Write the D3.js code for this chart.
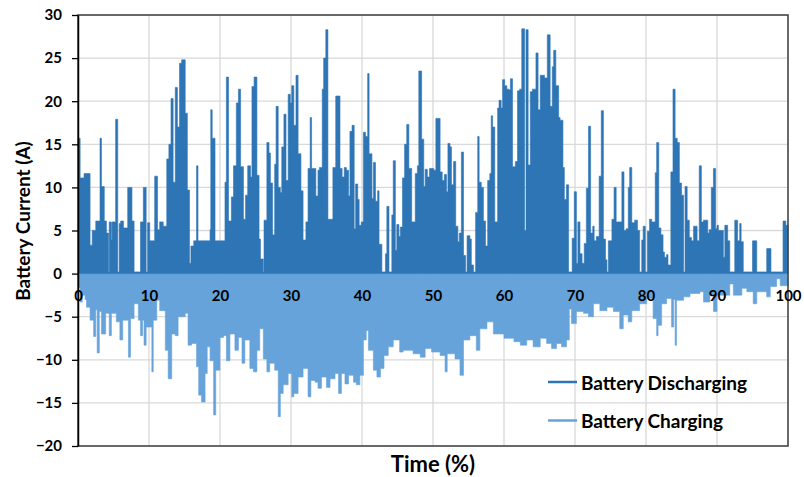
<!DOCTYPE html>
<html>
<head>
<meta charset="utf-8">
<script src="https://cdn.jsdelivr.net/npm/d3@7"></script>
<style>
body { margin: 0; background: #fff; }
svg text { font-family: Lato, "Open Sans", sans-serif; font-weight: 700; fill: #000; }
</style>
</head>
<body>
<svg id="chart" width="804" height="477"></svg>
<script>
// envelope of the battery current: each value holds from its start time to the next one
var dischargeTime = [
    0, 0.3, 0.85, 1.7, 2.0, 2.5, 3.1, 3.3, 3.7, 4.0,
    4.3, 4.4, 4.7, 4.8, 5.3, 5.6, 5.8, 6.0, 6.4, 7.0,
    7.6, 7.9, 8.8, 9.2, 9.6, 9.8, 10.1, 10.8, 11.2, 11.5,
    12.0, 12.5, 12.8, 13.1, 13.4, 13.7, 14.0, 14.3, 14.6, 15.1,
    15.4, 15.7, 15.9, 16.3, 16.7, 16.9, 18.6, 18.7, 18.9, 19.3,
    20.7, 20.9, 21.2, 21.6, 21.9, 22.3, 22.6, 22.9, 23.3, 23.6,
    23.9, 24.3, 24.5, 24.8, 25.2, 25.5, 25.7, 26.1, 26.2, 26.6,
    26.9, 27.1, 27.4, 27.7, 27.9, 28.2, 28.5, 28.7, 29.0, 29.3,
    29.6, 29.9, 30.1, 30.4, 30.7, 31.0, 31.4, 31.7, 32.1, 32.4,
    32.7, 32.9, 33.5, 33.8, 34.0, 34.4, 34.6, 34.9, 35.2, 35.9,
    36.3, 36.9, 37.2, 37.5, 37.8, 38.1, 38.3, 38.6, 38.9, 39.1,
    39.4, 39.6, 39.9, 40.2, 40.5, 40.8, 41.0, 41.4, 41.6, 41.9,
    42.2, 42.4, 42.8, 43.3, 43.5, 43.8, 44.2, 44.4, 44.7, 44.9,
    45.2, 45.4, 45.7, 46.0, 46.3, 46.6, 47.0, 47.5, 47.8, 48.0,
    48.4, 48.7, 48.9, 49.2, 49.5, 50.1, 50.4, 51.0, 51.3, 51.6,
    51.9, 52.1, 52.4, 52.6, 52.9, 53.2, 53.5, 53.7, 54.0, 54.3,
    54.6, 54.8, 55.2, 55.4, 55.7, 56.0, 56.3, 56.5, 56.8, 57.1,
    57.4, 57.7, 58.0, 58.2, 58.4, 58.7, 59.1, 59.3, 59.6, 59.8,
    60.1, 60.4, 60.7, 60.9, 61.2, 61.6, 61.9, 62.2, 62.5, 62.9,
    63.1, 63.4, 63.7, 64.0, 64.5, 64.8, 65.1, 65.7, 66.1, 66.5,
    66.8, 67.0, 67.3, 67.7, 67.9, 68.3, 68.5, 68.8, 69.1, 69.6,
    69.9, 70.2, 70.4, 70.7, 71.0, 71.3, 71.6, 71.9, 72.2, 72.5,
    72.7, 73.0, 73.4, 73.7, 74.0, 74.3, 74.5, 74.7, 75.2, 75.5,
    75.8, 76.6, 76.9, 77.2, 77.5, 77.7, 78.0, 78.4, 78.8, 79.1,
    79.4, 79.6, 79.9, 80.2, 80.5, 80.8, 81.3, 81.5, 81.8, 82.1,
    82.4, 82.6, 82.9, 83.1, 83.5, 83.8, 84.1, 84.4, 84.7, 85.0,
    85.3, 85.5, 85.8, 86.1, 86.4, 86.7, 87.2, 87.5, 87.8, 88.1,
    88.7, 88.9, 89.2, 89.5, 89.8, 90.0, 90.2, 90.9, 91.1, 91.5,
    91.8, 92.5, 92.9, 93.2, 93.4, 93.7, 95.0, 95.6, 97.0, 97.6,
    99.3, 99.7
];
var dischargeAmps = [
    15.7, 11.1, 11.6, 3.3, 5.0, 6.1, 15.7, 10.1, 6.1, 4.7,
    0.2, 6.0, 3.9, 6.0, 17.9, 0.2, 5.8, 6.1, 5.3, 10.0,
    6.1, 0.2, 6.0, 10.0, 0.2, 5.9, 3.8, 11.3, 5.1, 6.0,
    5.5, 13.3, 15.0, 20.3, 10.6, 21.6, 17.0, 24.4, 24.8, 18.6,
    9.7, 1.2, 3.2, 3.8, 12.5, 3.8, 5.1, 19.0, 15.7, 3.8,
    10.6, 22.8, 6.1, 8.9, 12.5, 19.8, 21.4, 12.4, 6.3, 9.1,
    12.5, 11.2, 21.7, 22.8, 11.4, 4.0, 1.7, 0.2, 6.2, 15.2,
    14.0, 10.5, 4.5, 12.7, 19.4, 10.0, 9.4, 14.7, 18.5, 10.8,
    20.8, 19.8, 21.8, 17.2, 23.0, 13.9, 9.6, 3.9, 6.0, 12.2,
    18.1, 12.2, 9.0, 12.0, 12.3, 21.4, 25.0, 28.3, 6.3, 12.3,
    20.6, 12.2, 11.2, 12.3, 12.0, 9.0, 16.5, 17.2, 5.2, 10.4,
    8.6, 5.6, 6.0, 16.4, 15.9, 23.2, 13.9, 8.7, 12.9, 8.4,
    9.6, 3.4, 0.2, 2.3, 7.8, 0.2, 6.8, 13.1, 2.7, 5.7,
    4.3, 5.4, 11.1, 15.0, 17.3, 12.2, 6.0, 11.6, 12.5, 23.5,
    15.6, 10.1, 12.1, 11.2, 12.2, 12.0, 18.0, 11.8, 10.8, 11.5,
    9.5, 15.1, 14.7, 10.3, 13.0, 5.5, 3.7, 4.7, 14.1, 2.1,
    0.2, 4.4, 4.0, 1.0, 0.2, 7.1, 15.9, 10.6, 10.0, 6.1,
    3.2, 10.8, 11.6, 18.3, 17.0, 6.0, 19.2, 20.1, 19.2, 22.5,
    21.8, 21.4, 21.3, 22.6, 12.4, 13.0, 21.2, 21.4, 28.4, 5.0,
    28.3, 12.6, 21.1, 21.4, 25.6, 19.0, 23.0, 22.7, 27.7, 19.4,
    24.0, 25.9, 21.8, 18.1, 17.8, 12.3, 8.6, 10.3, 0.2, 4.1,
    9.5, 1.2, 6.0, 2.3, 1.2, 3.5, 9.9, 17.1, 4.7, 5.5,
    3.8, 4.3, 11.3, 18.9, 4.0, 1.6, 0.2, 3.8, 6.3, 10.0,
    6.0, 11.8, 5.0, 5.2, 10.0, 12.3, 5.9, 6.2, 5.0, 0.2,
    3.9, 5.5, 0.2, 4.9, 6.3, 6.0, 11.7, 15.2, 5.3, 4.5,
    2.5, 1.9, 2.2, 1.0, 11.8, 21.4, 15.7, 15.2, 10.5, 9.1,
    0.2, 10.1, 6.2, 4.2, 3.8, 5.5, 3.8, 12.5, 6.0, 6.2,
    4.7, 5.1, 10.0, 12.2, 5.2, 5.6, 5.0, 1.9, 5.6, 3.8,
    0.2, 6.2, 3.8, 5.8, 3.7, 0.2, 3.8, 0.2, 2.9, 0.2,
    6.1, 5.6
];

var chargeTime = [
    0, 0.3, 0.6, 1.0, 1.2, 1.7, 2.2, 2.5, 2.7, 3.0,
    3.3, 3.9, 4.4, 4.7, 5.4, 5.9, 6.3, 7.1, 7.4, 7.9,
    8.5, 8.8, 9.1, 9.3, 9.6, 10.4, 10.6, 11.1, 11.5, 12.3,
    12.7, 13.2, 13.7, 14.1, 15.1, 15.5, 16.0, 16.7, 17.0, 17.4,
    17.9, 18.2, 18.6, 19.1, 19.4, 20.0, 20.5, 20.9, 21.4, 22.1,
    22.6, 23.1, 23.5, 24.2, 24.7, 25.2, 25.6, 26.1, 26.6, 27.0,
    27.7, 28.2, 28.5, 28.9, 29.6, 30.1, 30.4, 31.0, 31.7, 32.4,
    32.8, 33.4, 33.8, 34.3, 35.0, 35.5, 36.2, 36.7, 37.1, 37.6,
    38.1, 38.8, 39.2, 39.7, 40.2, 40.6, 40.9, 41.6, 42.1, 42.6,
    43.1, 43.7, 44.4, 45.3, 45.8, 47.2, 48.2, 48.9, 49.8, 51.0,
    51.7, 52.0, 53.1, 53.8, 54.3, 55.2, 56.1, 56.6, 57.6, 58.5,
    60.0, 61.4, 62.3, 63.2, 64.1, 65.1, 66.0, 66.7, 67.4, 68.1,
    68.8, 69.2, 69.5, 70.2, 71.2, 71.9, 72.6, 73.5, 74.5, 75.4,
    76.3, 76.8, 77.5, 78.0, 79.1, 80.1, 81.0, 81.5, 81.7, 82.2,
    82.9, 83.6, 83.9, 84.1, 84.3, 85.3, 86.2, 87.6, 88.1, 89.0,
    89.5, 90.0, 91.8, 92.3, 93.5, 94.2, 95.1, 95.6, 97.0, 97.5,
    98.4, 98.9
];
var chargeAmps = [
    -1.6, -3.3, -2.5, -3.0, -3.9, -5.4, -7.3, -4.2, -9.2, -4.4,
    -7.0, -4.6, -7.2, -4.6, -5.6, -7.7, -5.4, -9.7, -5.2, -3.5,
    -5.4, -7.2, -5.4, -8.3, -6.2, -11.4, -5.4, -3.1, -4.3, -8.9,
    -12.2, -7.0, -7.2, -5.0, -4.6, -8.3, -8.1, -10.8, -14.1, -14.9,
    -11.6, -8.5, -10.1, -16.4, -11.2, -7.4, -7.2, -10.1, -7.0, -8.9,
    -7.4, -10.4, -7.7, -11.0, -11.4, -8.9, -6.4, -9.9, -11.4, -10.4,
    -11.2, -16.6, -13.9, -12.9, -11.6, -14.3, -13.9, -12.0, -11.0, -14.3,
    -12.4, -12.6, -13.3, -12.0, -13.2, -12.2, -11.6, -13.9, -11.6, -12.8,
    -11.8, -12.6, -12.9, -11.8, -7.7, -6.6, -8.9, -11.2, -12.0, -11.0,
    -9.5, -8.5, -7.7, -9.1, -8.9, -9.3, -9.7, -8.7, -9.1, -9.5,
    -11.4, -9.3, -9.9, -11.8, -7.7, -7.2, -8.9, -6.4, -5.6, -7.0,
    -7.5, -7.9, -8.3, -7.7, -8.5, -7.5, -8.1, -8.7, -8.1, -8.5,
    -7.7, -4.1, -5.8, -4.4, -4.6, -5.0, -3.5, -4.3, -3.9, -4.4,
    -6.4, -4.8, -5.6, -4.3, -3.5, -2.9, -5.2, -7.2, -6.0, -3.5,
    -2.9, -6.2, -3.0, -8.3, -3.1, -2.7, -2.3, -2.1, -3.3, -2.5,
    -4.4, -2.5, -1.2, -2.5, -1.7, -2.1, -3.5, -2.1, -2.7, -1.5,
    -0.6, -1.4
];

var xTicks = [0, 10, 20, 30, 40, 50, 60, 70, 80, 90, 100];
var yTicks = [-20, -15, -10, -5, 0, 5, 10, 15, 20, 25, 30];
var seriesNames = ['Battery Discharging', 'Battery Charging'];
var seriesColors = ['#2e75b6', '#66a3da'];

var svg = d3.select('#chart');
var x = d3.scaleLinear().domain([0, 100]).range([78, 788]);
var y = d3.scaleLinear().domain([-20, 30]).range([446, 15]);

// turn the two parallel arrays into step points, closing at 100 %
function steps(times, amps) {
    var pts = times.map(function(t, i) { return { t: t, v: amps[i] }; });
    pts.push({ t: 100, v: amps[amps.length - 1] });
    return pts;
}

// gridlines
var grid = svg.append('g').attr('class', 'grid');
grid.selectAll('line.h').data(yTicks).enter().append('line')
    .attr('class', 'h')
    .attr('x1', x(0)).attr('x2', x(100))
    .attr('y1', function(d) { return y(d); }).attr('y2', function(d) { return y(d); })
    .attr('stroke', '#d9d9d9').attr('stroke-width', 1.3);
grid.selectAll('line.v').data(xTicks).enter().append('line')
    .attr('class', 'v')
    .attr('x1', function(d) { return x(d); }).attr('x2', function(d) { return x(d); })
    .attr('y1', y(30)).attr('y2', y(-20))
    .attr('stroke', '#d9d9d9').attr('stroke-width', 1.3);

var area = d3.area()
    .curve(d3.curveStepAfter)
    .x(function(d) { return x(d.t); })
    .y0(y(0))
    .y1(function(d) { return y(d.v); });

svg.append('path')
    .datum(steps(chargeTime, chargeAmps))
    .attr('d', area)
    .attr('fill', seriesColors[1])
    .attr('stroke', seriesColors[1])
    .attr('stroke-width', 0.6);

svg.append('path')
    .datum(steps(dischargeTime, dischargeAmps))
    .attr('d', area)
    .attr('fill', seriesColors[0])
    .attr('stroke', seriesColors[0])
    .attr('stroke-width', 0.6);

// plot border
svg.append('rect')
    .attr('x', x(0)).attr('y', y(30))
    .attr('width', x(100) - x(0)).attr('height', y(-20) - y(30))
    .attr('fill', 'none')
    .attr('stroke', '#404040')
    .attr('stroke-width', 1.5);

// y axis
var yAxis = svg.append('g')
    .attr('transform', 'translate(' + x(0) + ',0)')
    .call(d3.axisLeft(y).tickValues(yTicks).tickSize(6).tickSizeOuter(0).tickPadding(10));
yAxis.select('.domain').attr('stroke', '#000').attr('stroke-width', 1.5);
yAxis.selectAll('.tick line').attr('stroke', '#000').attr('stroke-width', 1.3);
yAxis.selectAll('text').attr('font-size', 15).attr('fill', '#000');

// x labels sit just under the zero line
var xAxis = svg.append('g')
    .attr('transform', 'translate(0,' + y(0) + ')')
    .call(d3.axisBottom(x).tickValues(xTicks).tickSize(0).tickPadding(17));
xAxis.select('.domain').remove();
xAxis.selectAll('text').attr('font-size', 15).attr('fill', '#000');
svg.selectAll('.tick text').style('font-family', 'Lato, "Open Sans", sans-serif').style('font-weight', 700);

// axis titles
svg.append('text')
    .attr('transform', 'translate(22,221) rotate(-90)')
    .attr('text-anchor', 'middle')
    .attr('dominant-baseline', 'central')
    .attr('font-size', 19)
    .text('Battery Current (A)');
svg.append('text')
    .attr('x', 433).attr('y', 472)
    .attr('text-anchor', 'middle')
    .attr('font-size', 22)
    .text('Time (%)');

// legend
var legend = svg.append('g').selectAll('g').data(seriesNames).enter().append('g')
    .attr('transform', function(d, i) { return 'translate(548,' + (382 + i * 38.5) + ')'; });
legend.append('line')
    .attr('x1', 0).attr('x2', 29)
    .attr('stroke', function(d, i) { return seriesColors[i]; })
    .attr('stroke-width', 2.5);
legend.append('text')
    .attr('x', 33)
    .attr('dominant-baseline', 'central')
    .attr('font-size', 19)
    .text(function(d) { return d; });
</script>
</body>
</html>
